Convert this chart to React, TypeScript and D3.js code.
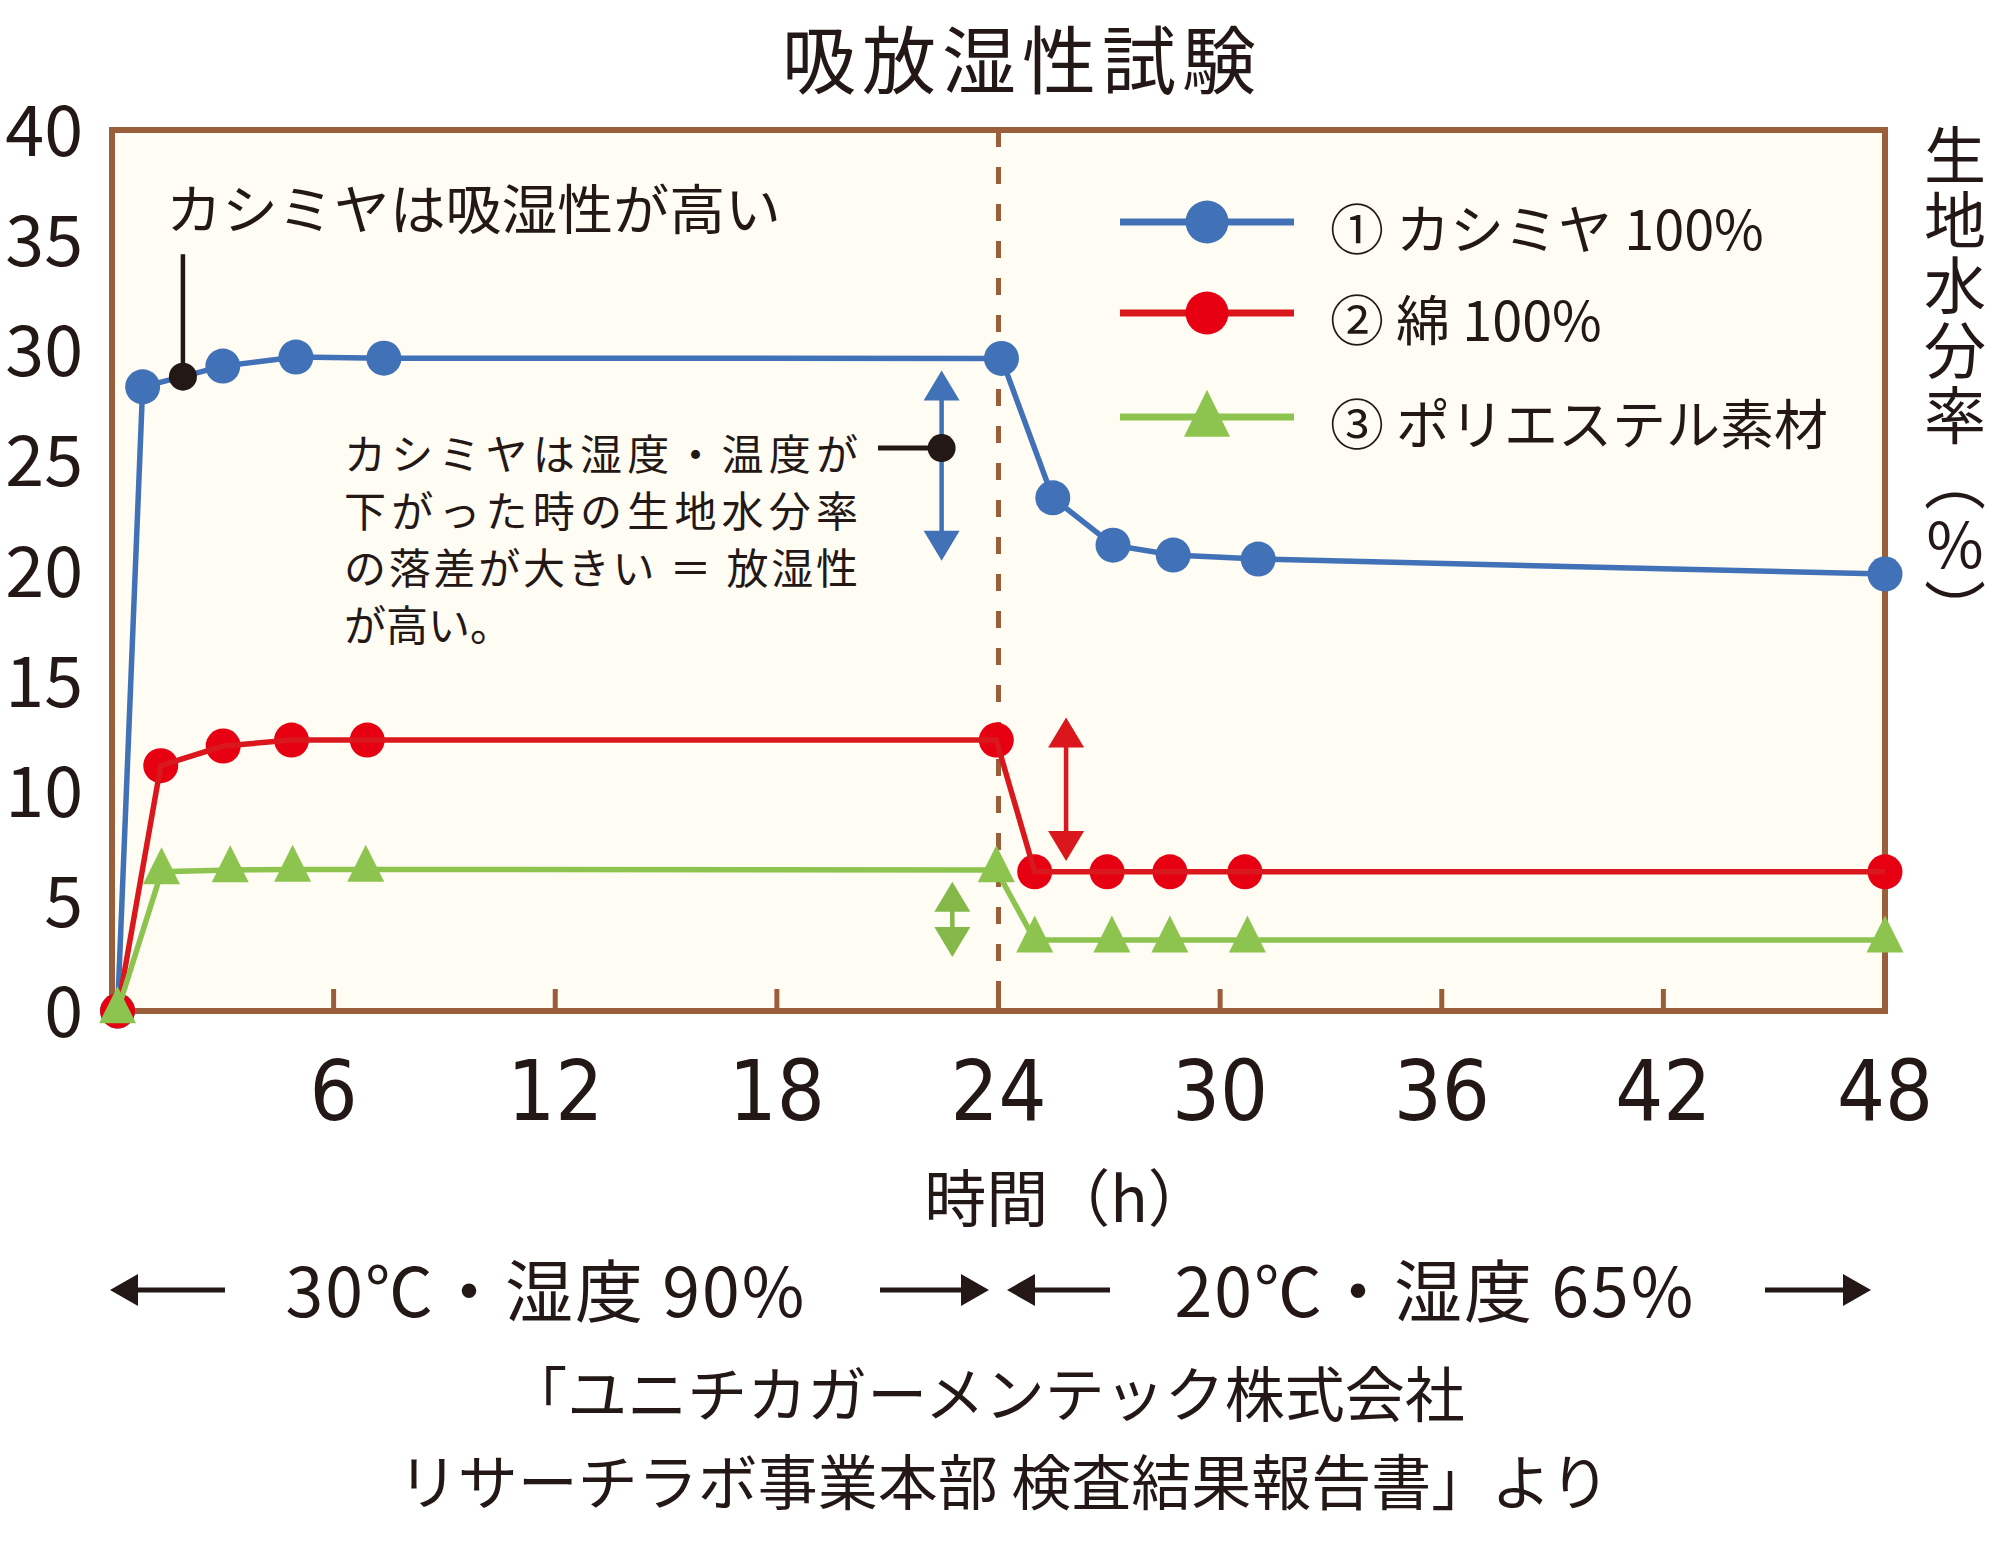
import { useEffect, useRef } from "react";
import * as d3 from "d3";

// ---- data ----
const HOURS_CASHMERE = [0.15, 0.83, 3.0, 4.98, 7.36, 24.08, 25.47, 27.1, 28.73, 31.03, 48];
const CASHMERE = [0, 28.34, 29.28, 29.69, 29.64, 29.63, 23.3, 21.15, 20.7, 20.52, 19.84];

const HOURS_COTTON = [0.15, 1.32, 3.01, 4.86, 6.91, 23.94, 24.98, 26.94, 28.64, 30.67, 48];
const COTTON = [0, 11.14, 12.03, 12.3, 12.3, 12.3, 6.32, 6.32, 6.32, 6.32, 6.32];

const HOURS_POLY = [0.15, 1.34, 3.2, 4.89, 6.87, 23.94, 24.98, 27.07, 28.64, 30.74, 48];
const POLY = [0, 6.32, 6.4, 6.43, 6.43, 6.4, 3.22, 3.22, 3.22, 3.22, 3.22];

const SERIES_LABELS = ["① カシミヤ 100%", "② 綿 100%", "③ ポリエステル素材"];
const X_TICKS = [6, 12, 18, 24, 30, 36, 42, 48];
const Y_TICKS = [0, 5, 10, 15, 20, 25, 30, 35, 40];

// double arrows: hour, top value, bottom value
const ARROW_HOURS = [22.46, 25.83, 22.75];
const ARROW_TOP = [29.08, 13.33, 5.87];
const ARROW_BOTTOM = [20.44, 6.81, 2.45];

const NOTE_LINES = ["カシミヤは湿度・温度が", "下がった時の生地水分率", "の落差が大きい ＝ 放湿性", "が高い。"];
const CONDITIONS = ["30℃・湿度 90%", "20℃・湿度 65%"];
const SOURCE_LINES = ["「ユニチカガーメンテック株式会社", "リサーチラボ事業本部 検査結果報告書」より"];

const BLUE = "#4171b7";
const RED_DOT = "#e60012";
const RED_LINE = "#d9171c";
const GREEN = "#8dc450";
const GREEN_DARK = "#84b94a";
const BROWN = "#9b5e3b";
const INK = "#231815";
const JP = "'Noto Sans CJK JP', 'Noto Sans', sans-serif";
const NARROW = "'Liberation Sans Narrow', 'DejaVu Sans Condensed', 'Noto Sans CJK JP', sans-serif";

const tri = (w: number, h: number) =>
  `M0,${(-2 * h) / 3}L${w / 2},${h / 3}L${-w / 2},${h / 3}Z`;

export default function App() {
  const svgRef = useRef<SVGSVGElement>(null);

  useEffect(() => {
    document.body.style.margin = "0";
    if (!svgRef.current) return;
    const svg = d3.select(svgRef.current);
    svg.selectAll("*").remove();

    const xScale = d3.scaleLinear().domain([0, 48]).range([112, 1885]);
    const yScale = d3.scaleLinear().domain([0, 40]).range([1011, 130]);
    const [x0, x1] = xScale.range();
    const [y0, y1] = yScale.range();

    // title
    svg.append("text")
      .attr("x", 1022).attr("y", 88)
      .attr("text-anchor", "middle")
      .attr("font-family", JP).attr("font-size", 74)
      .attr("letter-spacing", 6)
      .attr("fill", INK)
      .text("吸放湿性試験");

    // plot background
    svg.append("rect")
      .attr("x", x0).attr("y", y1)
      .attr("width", x1 - x0).attr("height", y0 - y1)
      .attr("fill", "#fffcf3");

    // inner ticks
    svg.selectAll("line.xtick")
      .data(X_TICKS.filter((d) => d < 48))
      .join("line")
      .attr("x1", (d) => xScale(d)).attr("x2", (d) => xScale(d))
      .attr("y1", y0).attr("y2", y0 - 22)
      .attr("stroke", BROWN).attr("stroke-width", 5);

    // 24h divider
    svg.append("line")
      .attr("x1", xScale(24)).attr("x2", xScale(24))
      .attr("y1", y1).attr("y2", y0)
      .attr("stroke", BROWN).attr("stroke-width", 5)
      .attr("stroke-dasharray", "17 20");

    svg.append("rect")
      .attr("x", x0).attr("y", y1)
      .attr("width", x1 - x0).attr("height", y0 - y1)
      .attr("fill", "none")
      .attr("stroke", BROWN).attr("stroke-width", 6);

    // y labels
    svg.selectAll("text.ylab")
      .data(Y_TICKS)
      .join("text")
      .attr("x", 83).attr("y", (d) => yScale(d) + 26)
      .attr("text-anchor", "end")
      .attr("font-family", JP).attr("font-size", 70)
      .attr("fill", INK)
      .text((d) => String(d));

    // x labels
    svg.selectAll("text.xlab")
      .data(X_TICKS)
      .join("text")
      .attr("x", (d) => xScale(d)).attr("y", 1120)
      .attr("text-anchor", "middle")
      .attr("font-family", NARROW).attr("font-stretch", "condensed")
      .attr("font-size", 84)
      .attr("fill", INK)
      .text((d) => String(d));

    svg.append("text")
      .attr("x", 1067).attr("y", 1222)
      .attr("text-anchor", "middle")
      .attr("font-family", JP).attr("font-size", 62)
      .attr("fill", INK)
      .text("時間（h）");

    // right axis title, vertical
    svg.append("text")
      .attr("x", 1955).attr("y", 124)
      .attr("font-family", JP).attr("font-size", 62)
      .attr("letter-spacing", 3)
      .attr("fill", INK)
      .style("writing-mode", "vertical-rl")
      .text("生地水分率（％）");

    // series
    const series = [
      { hours: HOURS_CASHMERE, vals: CASHMERE, line: BLUE, dot: BLUE, shape: "circle" },
      { hours: HOURS_COTTON, vals: COTTON, line: RED_LINE, dot: RED_DOT, shape: "circle" },
      { hours: HOURS_POLY, vals: POLY, line: GREEN, dot: GREEN, shape: "triangle" },
    ];
    const lineGen = d3.line<[number, number]>()
      .x((d) => xScale(d[0]))
      .y((d) => yScale(d[1]));

    series.forEach((s, si) => {
      const pts = s.hours.map((h, i) => [h, s.vals[i]] as [number, number]);
      if (s.shape === "circle") {
        svg.selectAll(`circle.s${si}`)
          .data(pts)
          .join("circle")
          .attr("cx", (d) => xScale(d[0])).attr("cy", (d) => yScale(d[1]))
          .attr("r", 17.5)
          .attr("fill", s.dot);
      } else {
        svg.selectAll(`path.s${si}`)
          .data(pts)
          .join("path")
          .attr("transform", (d) => `translate(${xScale(d[0])},${yScale(d[1])})`)
          .attr("d", tri(37, 37))
          .attr("fill", s.dot);
      }
      svg.append("path")
        .datum(pts)
        .attr("fill", "none")
        .attr("stroke", s.line)
        .attr("stroke-width", 5.5)
        .attr("stroke-linejoin", "miter")
        .attr("d", lineGen);

      // callout for cashmere
      if (si === 0) {
        const cx = xScale(1.92);
        svg.append("line")
          .attr("x1", cx).attr("x2", cx)
          .attr("y1", yScale(34.36)).attr("y2", yScale(28.8))
          .attr("stroke", INK).attr("stroke-width", 4.5);
        svg.append("circle")
          .attr("cx", cx).attr("cy", yScale(28.8)).attr("r", 14)
          .attr("fill", INK);
      }
    });

    // double arrows
    const arrowColors = [BLUE, RED_LINE, GREEN_DARK];
    ARROW_HOURS.forEach((h, i) => {
      const ax = xScale(h);
      const top = yScale(ARROW_TOP[i]);
      const bot = yScale(ARROW_BOTTOM[i]);
      const hw = 18, hh = 30;
      svg.append("line")
        .attr("x1", ax).attr("x2", ax)
        .attr("y1", top + hh - 2).attr("y2", bot - hh + 2)
        .attr("stroke", arrowColors[i]).attr("stroke-width", 4.5);
      svg.append("path")
        .attr("d", `M${ax},${top}L${ax + hw},${top + hh}L${ax - hw},${top + hh}Z`)
        .attr("fill", arrowColors[i]);
      svg.append("path")
        .attr("d", `M${ax},${bot}L${ax + hw},${bot - hh}L${ax - hw},${bot - hh}Z`)
        .attr("fill", arrowColors[i]);
    });

    // annotations
    svg.append("text")
      .attr("x", 166).attr("y", 230)
      .attr("font-family", JP).attr("font-size", 54)
      .attr("fill", INK)
      .attr("textLength", 615).attr("lengthAdjust", "spacingAndGlyphs")
      .text("カシミヤは吸湿性が高い");

    const note = svg.append("text")
      .attr("font-family", JP).attr("font-size", 42)
      .attr("fill", INK);
    NOTE_LINES.forEach((t, i) => {
      const ts = note.append("tspan")
        .attr("x", 344).attr("y", 470 + i * 57)
        .text(t);
      if (i < 3) ts.attr("textLength", 514).attr("lengthAdjust", "spacing");
    });
    const noteY = yScale(25.56);
    svg.append("line")
      .attr("x1", 878).attr("x2", xScale(22.46))
      .attr("y1", noteY).attr("y2", noteY)
      .attr("stroke", INK).attr("stroke-width", 5);
    svg.append("circle")
      .attr("cx", xScale(22.46)).attr("cy", noteY).attr("r", 14)
      .attr("fill", INK);

    // legend
    const legendY = [222, 313, 417];
    series.forEach((s, i) => {
      const ly = legendY[i];
      svg.append("line")
        .attr("x1", 1120).attr("x2", 1294)
        .attr("y1", ly).attr("y2", ly)
        .attr("stroke", s.line).attr("stroke-width", 7);
      if (s.shape === "circle") {
        svg.append("circle")
          .attr("cx", 1207).attr("cy", ly).attr("r", 21.5)
          .attr("fill", s.dot);
      } else {
        svg.append("path")
          .attr("transform", `translate(1207,${ly + 4})`)
          .attr("d", tri(46, 47))
          .attr("fill", s.dot);
      }
      svg.append("text")
        .attr("x", 1330).attr("y", ly + 28)
        .attr("font-family", JP).attr("font-size", 54)
        .attr("fill", INK)
        .text(SERIES_LABELS[i]);
    });

    // condition row
    const rowY = 1290;
    const arrow = (xa: number, xb: number, head: number) => {
      // head at xb
      const dir = xb > xa ? 1 : -1;
      svg.append("line")
        .attr("x1", xa).attr("x2", xb - dir * 20)
        .attr("y1", rowY).attr("y2", rowY)
        .attr("stroke", INK).attr("stroke-width", 5);
      svg.append("path")
        .attr("d", `M${xb},${rowY}L${xb - dir * head},${rowY - 16}L${xb - dir * head},${rowY + 16}Z`)
        .attr("fill", INK);
    };
    arrow(225, 110, 28);
    arrow(880, 989, 28);
    arrow(1110, 1007, 28);
    arrow(1765, 1871, 28);
    [546, 1435].forEach((cx, i) => {
      svg.append("text")
        .attr("x", cx).attr("y", 1317)
        .attr("text-anchor", "middle")
        .attr("font-family", JP).attr("font-size", 68)
        .attr("letter-spacing", 2)
        .attr("fill", INK)
        .text(CONDITIONS[i]);
    });

    // source
    SOURCE_LINES.forEach((t, i) => {
      svg.append("text")
        .attr("x", i === 0 ? 986 : 1004).attr("y", 1417 + i * 88)
        .attr("text-anchor", "middle")
        .attr("font-family", JP).attr("font-size", 60)
        .attr("fill", INK)
        .text(t);
    });
  }, []);

  return (
    <svg
      ref={svgRef}
      width={2000}
      height={1551}
      style={{ display: "block", background: "#ffffff" }}
    />
  );
}
